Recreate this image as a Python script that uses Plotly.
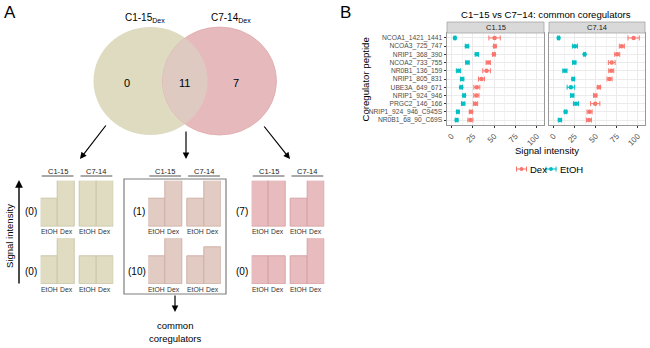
import numpy as np
import plotly.graph_objects as go

# ---------------- data ----------------
peptides = ["NCOA1_1421_1441", "NCOA3_725_747", "NRIP1_368_390", "NCOA2_733_755",
            "NR0B1_136_159", "NRIP1_805_831", "UBE3A_649_671", "NRIP1_924_946",
            "PRGC2_146_166", "NRIP1_924_946_C945S", "NR0B1_68_90_C69S"]

c115_dex = [50.4, 50.7, 49.6, 43.0, 41.0, 35.0, 29.6, 29.0, 28.0, 22.7, 22.0]
c115_dex_err = [6.7, 1.5, 1.5, 2.5, 4.5, 3.5, 3.5, 3.0, 2.5, 2.0, 3.0]
c115_etoh = [3.8, 18.0, 29.6, 18.5, 8.0, 12.3, 11.2, 14.6, 13.5, 7.3, 5.8]
c115_etoh_err = [1.0, 2.0, 2.0, 2.0, 2.5, 2.0, 1.5, 1.5, 2.0, 1.5, 1.5]

c714_dex = [95.0, 81.0, 75.5, 69.0, 68.4, 66.4, 53.8, 49.4, 49.4, 42.7, 41.9]
c714_dex_err = [6.7, 3.0, 3.0, 4.0, 3.0, 3.0, 2.0, 2.0, 5.5, 3.0, 3.0]
c714_etoh = [5.9, 25.3, 36.8, 24.5, 13.4, 23.3, 20.5, 22.0, 26.5, 14.2, 7.5]
c714_etoh_err = [1.0, 3.0, 1.0, 2.0, 2.5, 1.5, 4.5, 2.0, 3.0, 1.5, 2.0]

facet_names = ["C1.15", "C7.14"]
x_ticks = [0, 25, 50, 75, 100]
legend_names = ["Dex", "EtOH"]

venn_sets = ["C1-15", "C7-14"]
venn_counts = [0, 11, 7]

bar_labels = ["EtOH", "Dex", "EtOH", "Dex"]
pair_labels = ["C1-15", "C7-14"]
group_counts = [[0, 0], [1, 10], [7, 0]]
group_heights = [
    [[0.6, 1.0, 1.0, 1.0], [0.6, 1.0, 0.6, 0.6]],
    [[0.6, 1.0, 0.6, 1.0], [0.6, 1.0, 0.6, 0.8]],
    [[1.0, 1.0, 0.6, 1.0], [0.6, 0.6, 0.6, 1.0]],
]

# ---------------- helpers ----------------
W, H = 650, 348
FONT = "Liberation Sans, Arial, sans-serif"
DEX_C = "#F8766D"
ETOH_C = "#00BFC4"


def px(x):
    return x / W


def py(y):
    return 1 - y / H


fig = go.Figure()
annotations = []
shapes = []
layout_axes = {}


def text(x, y, s, size=10, color="black", angle=0, xanchor="center", yanchor="middle"):
    annotations.append(dict(x=px(x), y=py(y), xref="paper", yref="paper", text=s,
                            showarrow=False, textangle=angle, xanchor=xanchor,
                            yanchor=yanchor, font=dict(size=size, color=color, family=FONT)))


def arrow(hx, hy, tx, ty, width=1.2):
    annotations.append(dict(x=px(hx), y=py(hy), xref="paper", yref="paper", text="",
                            showarrow=True, ax=tx - hx, ay=ty - hy, arrowhead=2,
                            arrowsize=1.1, arrowwidth=width, arrowcolor="black", standoff=0))


def seg(x0, y0, x1, y1, color, width):
    shapes.append(dict(type="line", xref="paper", yref="paper", x0=px(x0), x1=px(x1),
                       y0=py(y0), y1=py(y1), line=dict(color=color, width=width)))


# ---------------- panel A : Venn ----------------
cx1, cx2, cy, rx, ry = 150.5, 219.5, 81.0, 57.0, 54.0
shapes.append(dict(type="circle", xref="paper", yref="paper", x0=px(cx1 - rx), x1=px(cx1 + rx),
                   y0=py(cy + ry), y1=py(cy - ry), fillcolor="#DEDBC0", line=dict(width=0), layer="below"))
shapes.append(dict(type="circle", xref="paper", yref="paper", x0=px(cx2 - rx), x1=px(cx2 + rx),
                   y0=py(cy + ry), y1=py(cy - ry), fillcolor="#E6BABC",
                   line=dict(width=0.8, color="#DFA9AD"), layer="below"))
# lens (overlap region)
t = np.linspace(np.pi / 2, 3 * np.pi / 2, 200)
ax2 = cx2 + rx * np.cos(t)
ay2 = cy + ry * np.sin(t)
m2 = ((ax2 - cx1) / rx) ** 2 + ((ay2 - cy) / ry) ** 2 <= 1
t1 = np.linspace(-np.pi / 2, np.pi / 2, 200)
ax1 = cx1 + rx * np.cos(t1)
ay1 = cy + ry * np.sin(t1)
m1 = ((ax1 - cx2) / rx) ** 2 + ((ay1 - cy) / ry) ** 2 <= 1
lx = np.concatenate([ax2[m2], ax1[m1]])
ly = np.concatenate([ay2[m2], ay1[m1]])
path = "M " + " L ".join(f"{px(a):.5f},{py(b):.5f}" for a, b in zip(lx, ly)) + " Z"
shapes.append(dict(type="path", xref="paper", yref="paper", path=path,
                   fillcolor="#DECAC1", line=dict(width=0), layer="below"))

text(144.5, 18, f"{venn_sets[0]}<sub>Dex</sub>", size=10)
text(230.5, 18, f"{venn_sets[1]}<sub>Dex</sub>", size=10)
text(127, 83, str(venn_counts[0]), size=11)
text(184, 83, str(venn_counts[1]), size=11)
text(236, 83, str(venn_counts[2]), size=11)

text(9.5, 13, "A", size=17)
text(346, 13, "B", size=17)

arrow(80, 159, 107, 124)
arrow(186, 159, 186, 130)
arrow(290, 159, 263, 125)

# ---------------- panel A : small bar schematics ----------------
group_x0 = [40.7, 148.3, 251.7]
group_w = 72.6
xr = [-0.5, 3.8]
unit = group_w / (xr[1] - xr[0])
bar_pos = [0, 1, 2.3, 3.3]
row_dom = [(226.7, 180.7), (284.0, 238.3)]
row_lab_y = [211, 271]
count_x = [[31, 31], [139, 136.5], [242, 242]]
fills = ["#DFDCC2", "#E1CBC2", "#E8BBBE"]
lines = ["#CBC7A8", "#CFB3A8", "#D7A2A6"]

k = 3
for g in range(3):
    x0 = group_x0[g]
    for p, (c0, c1) in enumerate([(x0, x0 + 2 * unit), (x0 + 2.3 * unit, x0 + 4.3 * unit)]):
        text((c0 + c1) / 2, 171.5, pair_labels[p], size=7.5, color="#222")
        seg(c0 + 1, 176, c1 - 1, 176, "#8C8C8C", 1.5)
    for r in range(2):
        fig.add_trace(go.Bar(x=bar_pos, y=group_heights[g][r], width=[1] * 4,
                             marker=dict(color=fills[g], line=dict(color=lines[g], width=1)),
                             xaxis=f"x{k}", yaxis=f"y{k}", showlegend=False, hoverinfo="skip"))
        layout_axes[f"xaxis{k}"] = dict(domain=[px(x0), px(x0 + group_w)], range=xr,
                                        anchor=f"y{k}", showticklabels=False,
                                        showgrid=False, zeroline=False, showline=False,
                                        ticks="", automargin=False, fixedrange=True)
        layout_axes[f"yaxis{k}"] = dict(domain=[py(row_dom[r][0]), py(row_dom[r][1])], range=[0, 1],
                                        anchor=f"x{k}", showgrid=False, zeroline=False,
                                        showticklabels=False, showline=False, ticks="",
                                        automargin=False, fixedrange=True)
        for bp, bl in zip(bar_pos, bar_labels):
            annotations.append(dict(x=bp, xref=f"x{k}", y=py(row_dom[r][0] + 5), yref="paper",
                                    text=bl, showarrow=False, xanchor="center", yanchor="middle",
                                    font=dict(size=6.8, color="#333", family=FONT)))
        text(count_x[g][r], row_lab_y[r], f"({group_counts[g][r]})", size=10)
        k += 1

shapes.append(dict(type="rect", xref="paper", yref="paper", x0=px(124), x1=px(226),
                   y0=py(294), y1=py(179), line=dict(color="#7F7F7F", width=1.2)))
arrow(175, 312, 175, 294)
text(175, 325, "common", size=9.5)
text(175, 338, "coregulators", size=9.5)

arrow(19, 180, 19, 285, width=1.4)
text(10, 236, "Signal intensity", size=9.5, angle=-90)

# ---------------- panel B ----------------
panel_x = [(447, 544), (549, 645)]
pan_top, pan_bot = 33, 125
series = [
    (c115_dex, c115_dex_err, c115_etoh, c115_etoh_err),
    (c714_dex, c714_dex_err, c714_etoh, c714_etoh_err),
]
for i in range(2):
    xa = "x" if i == 0 else "x2"
    ya = "y" if i == 0 else "y2"
    dex, dex_e, et, et_e = series[i]
    for vals, errs, col in [(dex, dex_e, DEX_C), (et, et_e, ETOH_C)]:
        fig.add_trace(go.Scatter(x=vals, y=peptides, mode="markers",
                                 marker=dict(color=col, size=4.5),
                                 error_x=dict(type="data", array=errs, color=col, thickness=1, width=2.5),
                                 xaxis=xa, yaxis=ya, showlegend=False, hoverinfo="skip"))
    key = "" if i == 0 else "2"
    layout_axes[f"xaxis{key}"] = dict(
        domain=[px(panel_x[i][0]), px(panel_x[i][1])], range=[-5.5, 108.5], anchor=ya,
        tickmode="array", tickvals=x_ticks, ticktext=[str(v) for v in x_ticks], tickangle=-45,
        tickfont=dict(size=8, color="#4D4D4D", family=FONT), ticks="outside", ticklen=2.5,
        tickcolor="#333", showgrid=True, gridcolor="#EBEBEB", gridwidth=0.8,
        minor=dict(tick0=12.5, dtick=25, showgrid=True, gridcolor="#F3F3F3", gridwidth=0.5),
        zeroline=False, showline=True, mirror=True, linecolor="#999999", linewidth=0.8,
        automargin=False, fixedrange=True)
    layout_axes[f"yaxis{key}"] = dict(
        domain=[py(pan_bot), py(pan_top)], type="category", categoryorder="array",
        categoryarray=peptides, range=[10.6, -0.6], anchor=xa,
        tickmode="array", tickvals=peptides, ticktext=peptides,
        showticklabels=(i == 0), tickfont=dict(size=6.7, color="#4D4D4D", family=FONT),
        ticks="outside" if i == 0 else "", ticklen=2.5, tickcolor="#333",
        showgrid=True, gridcolor="#EBEBEB", gridwidth=0.8, zeroline=False,
        showline=True, mirror=True, linecolor="#999999", linewidth=0.8,
        automargin=False, fixedrange=True)
    shapes.append(dict(type="rect", xref="paper", yref="paper", x0=px(panel_x[i][0]), x1=px(panel_x[i][1]),
                       y0=py(pan_top), y1=py(22), fillcolor="#D9D9D9",
                       line=dict(color="#A6A6A6", width=0.8)))
    text((panel_x[i][0] + panel_x[i][1]) / 2, 27.5, facet_names[i], size=7.5, color="#1A1A1A")

text(546, 14, "C1\u221215 vs C7\u221214: common coregulators", size=9.6)
text(547, 150, "Signal intensity", size=9.5)
text(365.5, 80, "Coregulator peptide", size=9.6, angle=-90)

# manual legend (errorbar + point glyph, then label)
leg_y = 169
for (g0, tx), name, col in zip([(516, 528), (545.5, 557.5)], legend_names, [DEX_C, ETOH_C]):
    seg(g0, leg_y, g0 + 11, leg_y, col, 1.1)
    seg(g0 + 0.5, leg_y - 2.5, g0 + 0.5, leg_y + 2.5, col, 1)
    seg(g0 + 10.5, leg_y - 2.5, g0 + 10.5, leg_y + 2.5, col, 1)
    shapes.append(dict(type="circle", xref="paper", yref="paper", x0=px(g0 + 3.6), x1=px(g0 + 7.4),
                       y0=py(leg_y + 1.9), y1=py(leg_y - 1.9), fillcolor=col, line=dict(width=0)))
    text(tx, leg_y, name, size=9.5, xanchor="left")

fig.update_layout(
    width=W, height=H, margin=dict(l=0, r=0, t=0, b=0),
    paper_bgcolor="white", plot_bgcolor="white", template="none",
    font=dict(family=FONT, color="black"),
    annotations=annotations, shapes=shapes, bargap=0, showlegend=False,
    **layout_axes,
)

fig.write_html("out.html", config={"displayModeBar": False},
               post_script="document.body.style.margin='0';document.body.style.padding='0';"
                           "document.body.style.overflow='hidden';")
